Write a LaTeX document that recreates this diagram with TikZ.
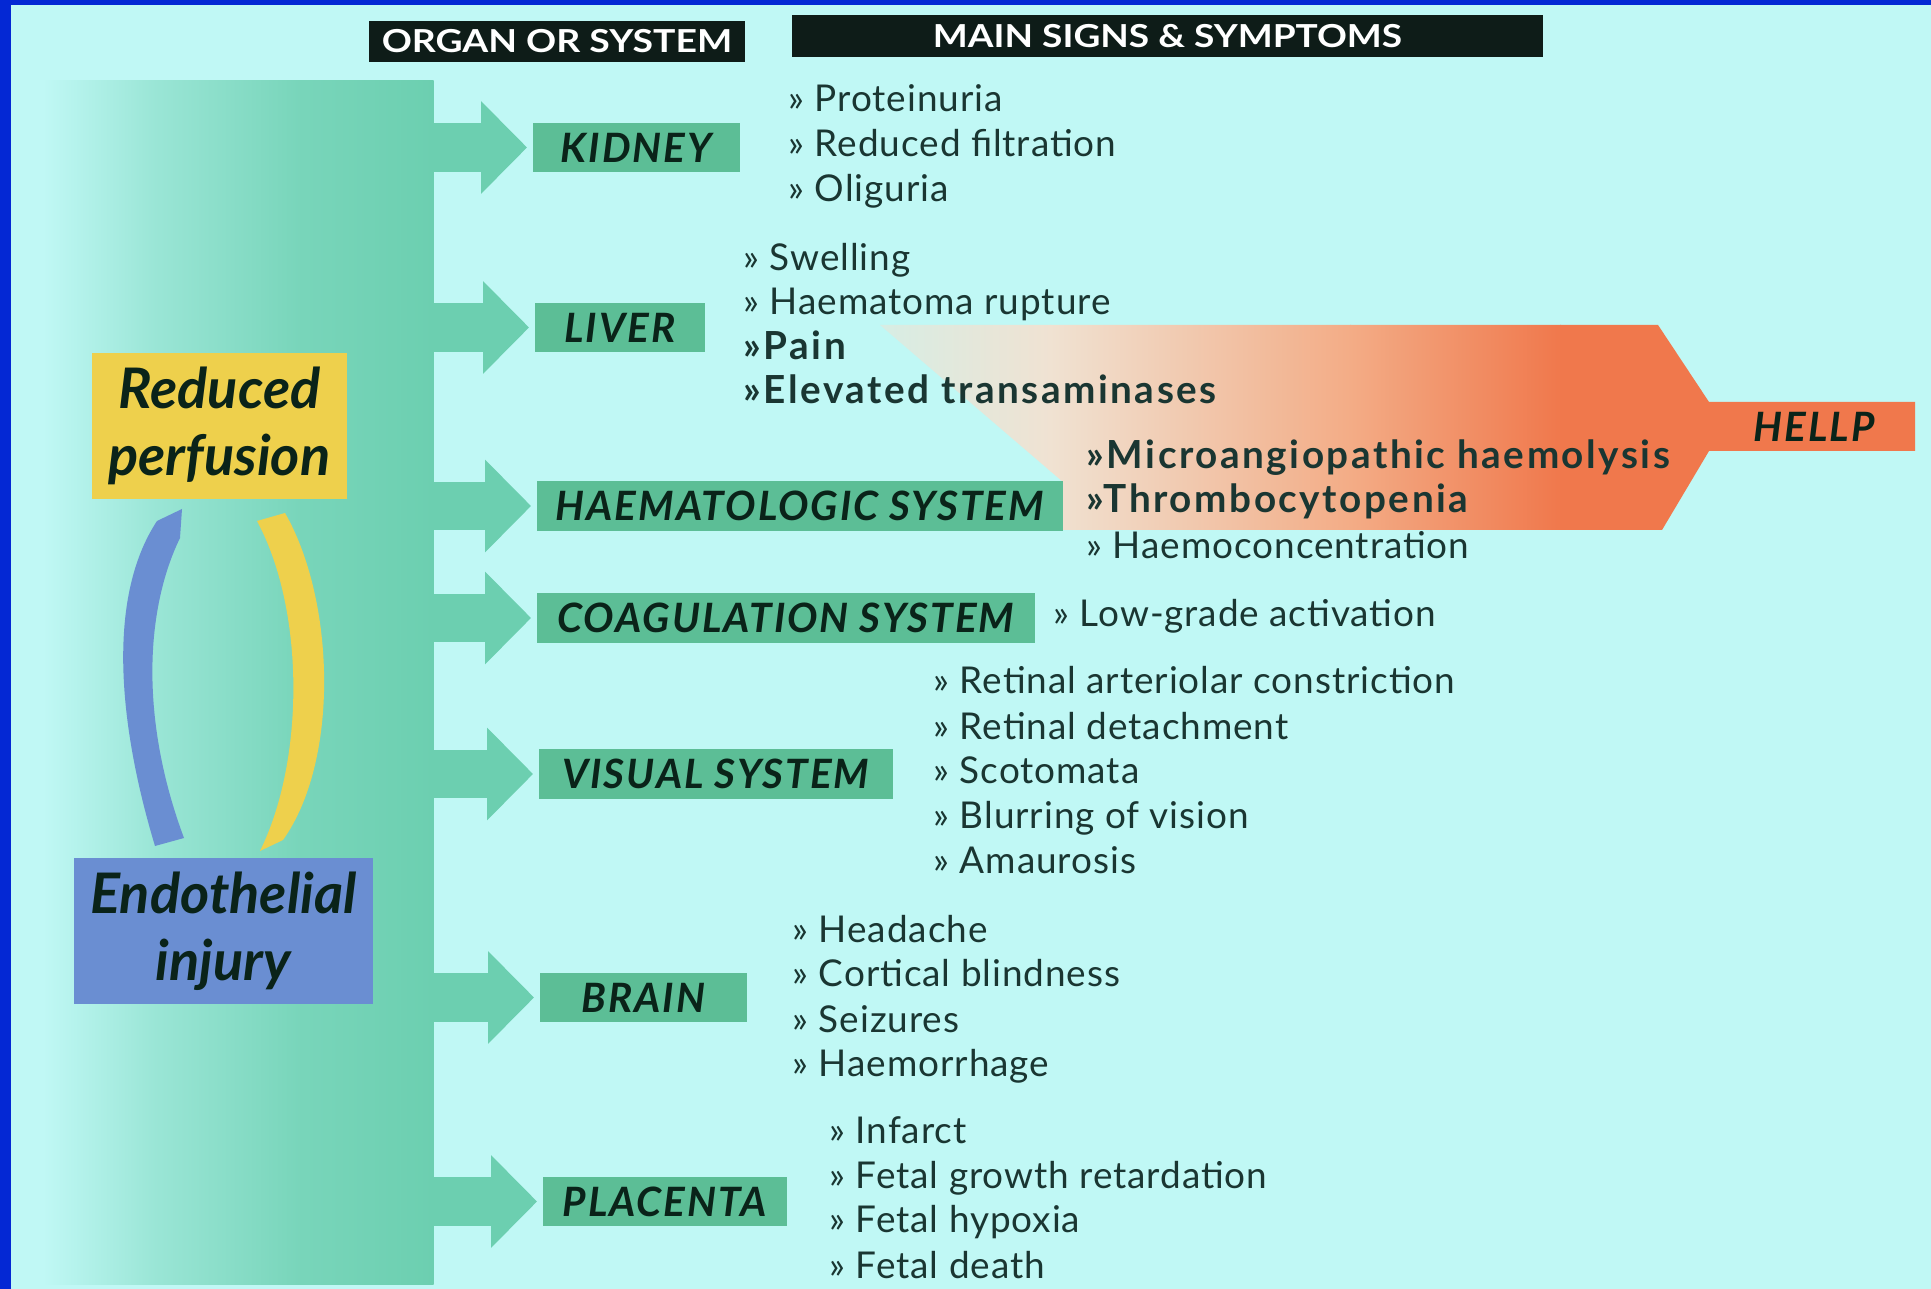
\documentclass[tikz,border=0pt]{standalone}
\usepackage{fontspec}
\setmainfont{Lato}
\newfontfamily\symfont[LetterSpace=2.5]{Lato}
\newfontfamily\symboldfont[LetterSpace=6.5]{Lato}
\newfontfamily\organfont[LetterSpace=5]{Lato}
\usetikzlibrary{arrows.meta}

\definecolor{bgc}{RGB}{192,248,245}
\definecolor{framec}{RGB}{4,40,212}
\definecolor{bandg}{RGB}{108,207,176}
\definecolor{lblg}{RGB}{92,190,150}
\definecolor{ink}{RGB}{26,54,50}
\definecolor{lblink}{RGB}{10,35,25}
\definecolor{hdrc}{RGB}{14,28,24}
\definecolor{ylw}{RGB}{238,208,76}
\definecolor{blu}{RGB}{106,142,210}
\definecolor{orng}{RGB}{240,120,76}
\definecolor{peach}{RGB}{240,226,210}
\definecolor{salmon}{RGB}{243,172,134}

% band: pale on the left, deepening to full green at its right edge
\pgfdeclarehorizontalshading{bandfade}{100bp}{%
  color(0bp)=(bgc); color(26bp)=(bgc); color(40bp)=(bandg!45!bgc);
  color(58bp)=(bandg!85!bgc); color(75bp)=(bandg); color(100bp)=(bandg)}

\newcommand\symsize{\symfont\fontsize{10.5}{12}\selectfont}
\newcommand\symboldsize{\symboldfont\bfseries\fontsize{11}{12}\selectfont}

\tikzset{
  hdrbox/.style={fill=hdrc, text=white, inner sep=0pt,
    font=\fontsize{9}{10}\selectfont\bfseries},
  organ/.style={fill=lblg, text=lblink, inner sep=0pt, anchor=west,
    minimum height=0.49cm, font=\organfont\bfseries\itshape\fontsize{11.5}{12}\selectfont},
  sym/.style={anchor=base west, inner sep=0pt, text=ink, font=\symsize},
  symb/.style={sym, font=\symboldsize},
  bigbox/.style={inner sep=0pt, align=center, text=lblink,
    font=\fontsize{15.9}{19}\selectfont\bfseries\itshape},
  blockarrow/.style={draw=bandg, line width=13.66pt,
    -{Triangle[width=25.6pt,length=13.1pt]}, shorten >=1.4pt},
}

\begin{document}
\begin{tikzpicture}[x=0.01cm,y=-0.01cm]
\useasboundingbox (0,0) rectangle (1931,1289);

% frame and paper
\fill[framec] (0,0) rectangle (1931,1289);
\fill[bgc] (11,5) rectangle (1931,1289);

% headers
\node[hdrbox, minimum width=3.76cm, minimum height=0.41cm] (h1) at (557,41.5)
  {\scalebox{1.18}[1]{ORGAN OR SYSTEM}};
\node[hdrbox, minimum width=7.51cm, minimum height=0.42cm] (h2) at (1167.5,36)
  {\scalebox{1.17}[1]{MAIN SIGNS \& SYMPTOMS}};

% vertical band
\node[minimum width=3.97cm, minimum height=12.01cm, inner sep=0pt, anchor=north west]
  (band) at (35,81) {};
\shade[shading=bandfade] (band.north west) rectangle (band.south east);

% HELLP funnel
\begin{scope}
  \clip (880,325) -- (1658,325) -- (1709,402) -- (1915,402) -- (1915,451)
        -- (1709,451) -- (1662,530) -- (1063,530) -- (1063,482) -- cycle;
  \shade[left color=peach!45!bgc, right color=peach] (870,320) rectangle (1051,535);
  \shade[left color=peach, right color=salmon] (1050,320) rectangle (1351,535);
  \shade[left color=salmon, right color=orng] (1350,320) rectangle (1561,535);
  \fill[orng] (1560,320) rectangle (1920,535);
\end{scope}
\node[inner sep=0pt, text=lblink, font=\organfont\bfseries\itshape\fontsize{11.5}{12}\selectfont]
  (hellp) at (1814,426.5) {HELLP};

% organ boxes
\node[organ, minimum width=2.07cm] (kid) at (532,147.5) {KIDNEY};
\node[organ, minimum width=1.70cm] (liv) at (534,327.5) {LIVER};
\node[organ, minimum width=5.26cm] (hae) at (536,506) {HAEMATOLOGIC SYSTEM};
\node[organ, minimum width=4.98cm] (coa) at (536,618) {COAGULATION SYSTEM};
\node[organ, minimum width=3.54cm] (vis) at (538,774) {VISUAL SYSTEM};
\node[organ, minimum width=2.07cm] (bra) at (539,997.5) {BRAIN};
\node[organ, minimum width=2.44cm] (pla) at (542,1201.5) {PLACENTA};

% arrows from the band
\foreach \n in {kid,liv,hae,coa,vis,bra,pla}
  \draw[blockarrow] (band.east |- \n.west) -- (\n.west);

% cause boxes
\node[bigbox, fill=ylw, minimum width=2.55cm, minimum height=1.46cm] (red) at (219.5,426)
  {Reduced\\perfusion};
\node[bigbox, fill=blu, minimum width=2.99cm, minimum height=1.46cm] (endo) at (223.5,931)
  {Endothelial\\injury};

% feedback arcs
\fill[blu] (155,846) .. controls (120,730) and (105,600) .. (157,521) -- (182,509)
  -- (180,538) .. controls (145,610) and (140,720) .. (184,838) -- cycle;
\fill[ylw] (257,521) -- (285,513) .. controls (335,600) and (340,760) .. (283,840)
  -- (260,851) .. controls (305,760) and (305,610) .. (257,521) -- cycle;

% signs and symptoms
\node[sym] (k1) at (788,112) {» Proteinuria};
\node[sym] (k2) at (788,157) {» Reduced filtration};
\node[sym] (k3) at (788,202) {» Oliguria};

\node[sym] (l1) at (743,271) {» Swelling};
\node[sym] (l2) at (743,315) {» Haematoma rupture};
\node[symb] (l3) at (743,360) {»Pain};
\node[symb] (l4) at (743,404) {»Elevated transaminases};

\node[symb] (e1) at (1086,469) {»Microangiopathic haemolysis};
\node[symb] (e2) at (1086,513) {»Thrombocytopenia};
\node[sym] (e3) at (1086,559) {» Haemoconcentration};

\node[sym] (c1) at (1053,627) {» Low-grade activation};

\node[sym] (v1) at (933,694) {» Retinal arteriolar constriction};
\node[sym] (v2) at (933,740) {» Retinal detachment};
\node[sym] (v3) at (933,784) {» Scotomata};
\node[sym] (v4) at (933,828) {» Blurring of vision};
\node[sym] (v5) at (933,873) {» Amaurosis};

\node[sym] (b1) at (792,942) {» Headache};
\node[sym] (b2) at (792,986) {» Cortical blindness};
\node[sym] (b3) at (792,1032) {» Seizures};
\node[sym] (b4) at (792,1076) {» Haemorrhage};

\node[sym] (p1) at (829,1143) {» Infarct};
\node[sym] (p2) at (829,1188) {» Fetal growth retardation};
\node[sym] (p3) at (829,1232) {» Fetal hypoxia};
\node[sym] (p4) at (829,1278) {» Fetal death};
\end{tikzpicture}
\end{document}
